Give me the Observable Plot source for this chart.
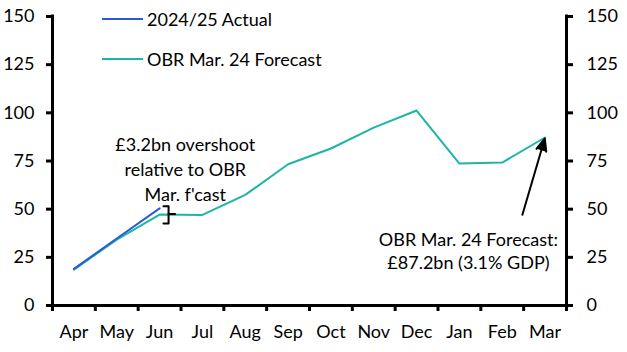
<!DOCTYPE html>
<html>
<head>
<meta charset="utf-8">
<script src="https://cdn.jsdelivr.net/npm/d3@7"></script>
<script src="https://cdn.jsdelivr.net/npm/@observablehq/plot@0.6"></script>
<style>
  html, body { margin: 0; padding: 0; background: #fff; }
  #wrap { position: relative; width: 627px; height: 352px; font-family: Lato, sans-serif; }
  #legend { position: absolute; left: 102px; top: 0; font-size: 18px; color: #000; }
  .item { position: absolute; display: flex; align-items: center; white-space: nowrap; }
  .sw { width: 41px; height: 2px; margin-right: 4px; }
</style>
</head>
<body>
<div id="wrap">
  <div id="chart"></div>
  <div id="legend"></div>
</div>
<script>
// ---- data ----
const months = ["Apr", "May", "Jun", "Jul", "Aug", "Sep", "Oct", "Nov", "Dec", "Jan", "Feb", "Mar"];
const actual = [19, 34.8, 50.4];
const forecast = [18.6, 34.2, 47.2, 47.0, 57.4, 73.3, 81.5, 92.3, 101.2, 73.7, 74.2, 87.2];
const yTicks = [0, 25, 50, 75, 100, 125, 150];
const seriesNames = ["2024/25 Actual", "OBR Mar. 24 Forecast"];
const seriesColors = ["#2a5bd7", "#1db5a5"];

// annotations (data coordinates: month index, £bn)
const noteOvershoot = ["£3.2bn overshoot\nrelative to OBR\nMar. f'cast"];
const noteOvershootPos = [2.6, 71.3];
const noteForecast = ["OBR Mar. 24 Forecast:\n£87.2bn (3.1% GDP)"];
const noteForecastPos = [9.21, 28.9];
const arrowFrom = [10.47, 47.1];
const arrowTo = [11, 87.2];
const bracketX = [2.09, 2.21, 2.36];
const bracketY = [51.5, 42.5, 47.5];

const actualData = actual.map((v, i) => ({i, v}));
const forecastData = forecast.map((v, i) => ({i, v}));
const bracket = [
  {x: bracketX[0], y: bracketY[0]}, {x: bracketX[1], y: bracketY[0]},
  {x: bracketX[1], y: bracketY[1]}, {x: bracketX[0], y: bracketY[1]}
];
const bracketTick = [{x: bracketX[1], y: bracketY[2]}, {x: bracketX[2], y: bracketY[2]}];

const chart = Plot.plot({
  width: 627,
  height: 352,
  marginLeft: 52,
  marginRight: 61,
  marginTop: 16,
  marginBottom: 47,
  style: {fontFamily: "Lato, sans-serif", fontSize: "18px", color: "#000", background: "#fff"},
  x: {type: "linear", domain: [-0.5, 11.5], label: null},
  y: {domain: [0, 150], label: null},
  marks: [
    Plot.axisY({anchor: "left", ticks: yTicks, tickSize: 6, tickPadding: 12, strokeWidth: 3, label: null}),
    Plot.axisY({anchor: "right", ticks: yTicks, tickSize: 6, tickPadding: 14, strokeWidth: 3, label: null}),
    Plot.axisX({ticks: d3.range(-0.5, 12, 1), tickSize: 6, strokeWidth: 3, tickFormat: () => "", label: null}),
    Plot.axisX({ticks: d3.range(12), tickSize: 0, tickPadding: 20, tickFormat: i => months[i], label: null}),
    Plot.ruleX([-0.5, 11.5], {y1: 0, y2: 150, strokeWidth: 3, strokeLinecap: "square"}),
    Plot.ruleY([0], {x1: -0.5, x2: 11.5, strokeWidth: 3, strokeLinecap: "square"}),
    Plot.line(forecastData, {x: "i", y: "v", stroke: seriesColors[1], strokeWidth: 2}),
    Plot.line(actualData, {x: "i", y: "v", stroke: seriesColors[0], strokeWidth: 2}),
    Plot.line(bracket, {x: "x", y: "y", stroke: "#000", strokeWidth: 2}),
    Plot.line(bracketTick, {x: "x", y: "y", stroke: "#000", strokeWidth: 2}),
    Plot.text(noteOvershoot, {x: () => noteOvershootPos[0], y: () => noteOvershootPos[1], text: d => d, lineHeight: 1.38, fontSize: 18, textAnchor: "middle", fill: "#000"}),
    Plot.text(noteForecast, {x: () => noteForecastPos[0], y: () => noteForecastPos[1], text: d => d, lineHeight: 1.33, fontSize: 18, textAnchor: "middle", fill: "#000"}),
    Plot.arrow([0], {x1: () => arrowFrom[0], y1: () => arrowFrom[1], x2: () => arrowTo[0], y2: () => arrowTo[1], insetEnd: 1, headLength: 10, headAngle: 45, strokeWidth: 2, stroke: "#000", fill: "#000"})
  ]
});
document.getElementById("chart").appendChild(chart);

const legend = document.getElementById("legend");
seriesNames.forEach((name, k) => {
  const it = document.createElement("div");
  it.className = "item";
  it.style.top = (k === 0 ? 8 : 48) + "px";
  const sw = document.createElement("span");
  sw.className = "sw";
  sw.style.background = seriesColors[k];
  const tx = document.createElement("span");
  tx.textContent = name;
  it.appendChild(sw);
  it.appendChild(tx);
  legend.appendChild(it);
});
</script>
</body>
</html>
